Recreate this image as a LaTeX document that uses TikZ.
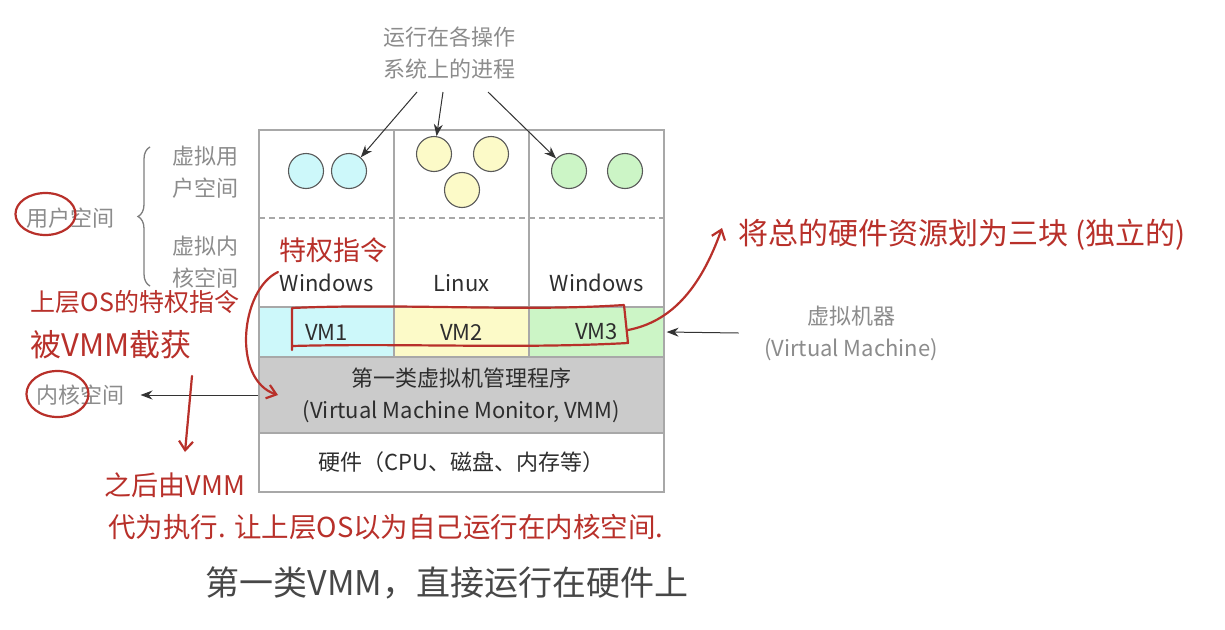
\documentclass[tikz,border=0pt]{standalone}
\usepackage{fontspec}
\setmainfont{Noto Sans CJK SC}
\usetikzlibrary{arrows.meta,decorations.pathreplacing,positioning}

\definecolor{txt}{HTML}{2E2E2E}
\definecolor{labgray}{HTML}{8C8C8C}
\definecolor{boxgray}{HTML}{A8A8A8}
\definecolor{vmcyan}{HTML}{CDF8FA}
\definecolor{vmyellow}{HTML}{FCFAC8}
\definecolor{vmgreen}{HTML}{CCF5C6}
\definecolor{vmmgray}{HTML}{CBCBCB}
\definecolor{handred}{HTML}{B8302A}

\newcommand{\fs}[1]{\fontsize{#1}{1.45\dimexpr#1pt\relax}\selectfont}

\begin{document}
\begin{tikzpicture}[x=1pt,y=-1pt,
  frame/.style={draw=boxgray,line width=1.2pt},
  cell/.style={draw=boxgray,line width=1.2pt,inner sep=0pt,minimum width=135pt,text=txt,font=\fs{22},align=center},
  proc/.style={circle,draw=black!65,line width=1.1pt,minimum size=35pt,inner sep=0pt},
  lab/.style={text=labgray,font=\fs{22},align=center},
  blackarr/.style={-{Stealth[length=12pt,width=9pt]},line width=1pt,black!80},
  hand/.style={text=handred,font=\fs{25},inner sep=0pt},
  redline/.style={draw=handred,line width=2.2pt,line cap=round,line join=round},
  redarr/.style={redline,-{Straight Barb[length=9pt,width=14pt,line width=2.2pt]}}]

  % fond
  \useasboundingbox[fill=white] (0,0) rectangle (1225,629);

  % cadrul
  \draw[frame] (259,130) rectangle (664,492);
  \draw[frame] (394,130) -- (394,307);
  \draw[frame] (529,130) -- (529,307);
  \draw[frame,dashed,dash pattern=on 6pt off 4pt] (259,218) -- (664,218);

  % procese
  \node[proc,fill=vmcyan]   (c11) at (306,171) {};
  \node[proc,fill=vmcyan]   (c12) at (349,171) {};
  \node[proc,fill=vmyellow] (c21) at (434,154) {};
  \node[proc,fill=vmyellow] (c22) at (491,154) {};
  \node[proc,fill=vmyellow] (c23) at (462,190) {};
  \node[proc,fill=vmgreen]  (c31) at (569,171) {};
  \node[proc,fill=vmgreen]  (c32) at (625,171) {};

  % sisteme
  \node[text=txt,font=\fs{22}] (os1) at (326.5,283) {Windows};
  \node[text=txt,font=\fs{22}] (os2) at (461.5,283) {Linux};
  \node[text=txt,font=\fs{22}] (os3) at (596.5,283) {Windows};

  % masini virtuale
  \node[cell,fill=vmcyan,minimum height=50pt]   (vm1) at (326.5,332) {VM1};
  \node[cell,fill=vmyellow,minimum height=50pt] (vm2) at (461.5,332) {VM2};
  \node[cell,fill=vmgreen,minimum height=50pt]  (vm3) at (596.5,332) {VM3};
  \node[cell,fill=vmmgray,minimum width=405pt,minimum height=76pt] (vmm) at (461.5,395)
    {第一类虚拟机管理程序\\(Virtual Machine Monitor, VMM)};
  \node[cell,minimum width=405pt,minimum height=59pt] (hw) at (461.5,462.5)
    {硬件（CPU、磁盘、内存等）};

  % etichete
  \node[lab] (top) at (449,53) {运行在各操作\\系统上的进程};
  \coordinate (s1) at (417,92);
  \coordinate (s2) at (443,92);
  \coordinate (s3) at (488,92);
  \draw[blackarr] (s1) -- (c12);
  \draw[blackarr] (s2) -- (c21);
  \draw[blackarr] (s3) -- (c31);

  \node[lab] (vuser) at (205,172) {虚拟用\\户空间};
  \node[lab] (vkern) at (205,262) {虚拟内\\核空间};
  \draw[draw=labgray!90!black,line width=1.3pt,decorate,decoration={brace,amplitude=12pt}] (150,286) -- (150,147);
  \node[lab] (user) at (70,218) {用户空间};
  \node[lab] (kern) at (80,395) {内核空间};
  \draw[blackarr] (vmm.west |- kern) -- ([xshift=13pt]kern.east);

  \node[lab] (vmlab) at (851,333) {虚拟机器\\(Virtual Machine)};
  \draw[blackarr] ([xshift=-22pt]vmlab.west) -- ([xshift=2pt]vm3.east);

  % titlu
  \node[text=black!72,font=\fs{34}] (cap) at (447,583) {第一类VMM，直接运行在硬件上};

  % notite
  \node[hand,font=\fs{27}] (priv) at (333,250) {特权指令};
  \node[hand] (n1) at (135,302) {上层OS的特权指令};
  \node[hand,font=\fs{31}] (n2) at (111,345) {被VMM截获};
  \node[hand,font=\fs{27}] (n3) at (175,485) {之后由VMM};
  \node[hand,font=\fs{27.5}] (n4) at (386,527) {代为执行. 让上层OS以为自己运行在内核空间.};
  \node[hand,font=\fs{30}] (n5) at (962,235) {将总的硬件资源划为三块 (独立的)};

  \draw[redline] (user.west) ++(23,-4) ellipse [x radius=30pt,y radius=21pt];
  \draw[redline] (kern.west) ++(25,-1) ellipse [x radius=31pt,y radius=23pt];

  \coordinate (p1) at (278,272);
  \coordinate (p2) at (278,395);
  \draw[redarr] (p1) .. controls (240,290) and (232,380) .. (p2);

  \coordinate (q1) at (192,376);
  \coordinate (q2) at (185,452);
  \draw[redarr] (q1) -- (q2);

  \draw[redline] (292,350) -- (292,308) .. controls (400,303) and (520,312) .. (624,305)
    -- (628,343) .. controls (520,349) and (400,343) .. (292,346);
  \coordinate (r1) at (628,330);
  \coordinate (r2) at (722,228);
  \draw[redarr] (r1) .. controls (670,322) and (700,290) .. (r2);
\end{tikzpicture}
\end{document}
